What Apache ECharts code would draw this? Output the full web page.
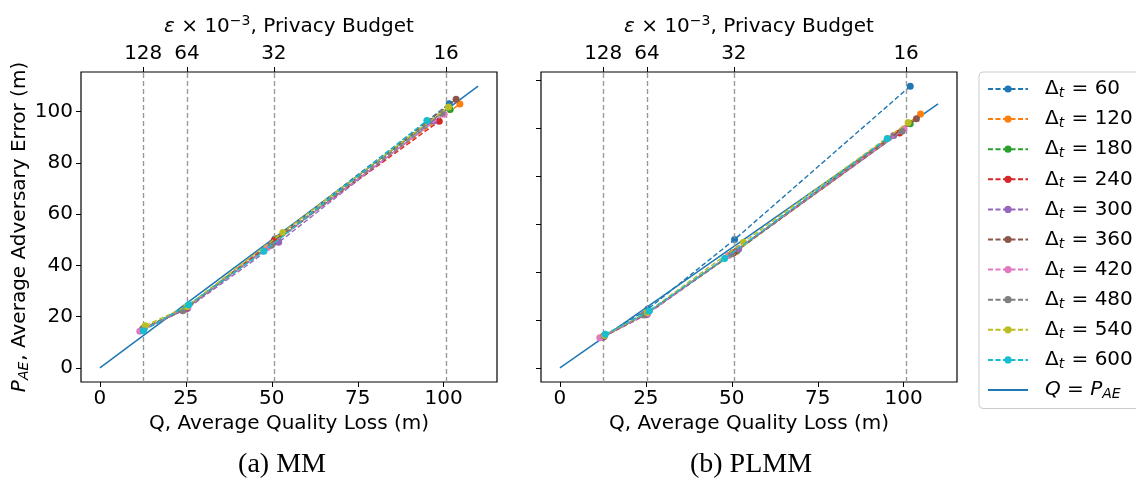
<!DOCTYPE html>
<html><head><meta charset="utf-8">
<script src="https://cdn.jsdelivr.net/npm/echarts@6/dist/echarts.min.js"></script>
<style>html,body{margin:0;padding:0;background:#fff}#c{width:1136px;height:484px}</style>
</head><body><div id="c"></div>
<script>
const deltas = ['60','120','180','240','300','360','420','480','540','600'];
const colors = ['#1f77b4','#ff7f0e','#2ca02c','#d62728','#9467bd','#8c564b','#e377c2','#7f7f7f','#bcbd22','#17becf'];
const epsLabels = ['128','64','32','16'];
const epsQ = [12.6, 25.3, 50.6, 100.7];
const xTicks = [0, 25, 50, 75, 100];
const yTicksMM = [0, 20, 40, 60, 80, 100];
const yTicksPLMM = [0, 20, 40, 60, 80, 100, 120];
const identity = [[0, 0], [110, 110]];
const captions = ['(a) MM', '(b) PLMM'];

// MM: [Q, P_AE] for eps = 128, 64, 32, 16
const mm60  = [[12.6,14.8],[25.3,23.5],[50.9,50.3],[101.6,103.1]];
const mm120 = [[12.4,15.2],[25.0,23.2],[51.4,50.5],[104.7,103.0]];
const mm180 = [[12.8,15.5],[25.4,23.8],[51.8,50.3],[101.9,100.9]];
const mm240 = [[12.5,15.0],[25.1,23.0],[50.7,49.6],[98.7,96.3]];
const mm300 = [[12.2,14.6],[25.5,23.3],[52.0,49.0],[97.0,96.4]];
const mm360 = [[12.7,15.3],[25.2,23.6],[50.0,48.3],[103.6,104.9]];
const mm420 = [[11.6,14.3],[25.6,23.9],[48.7,47.0],[100.1,99.0]];
const mm480 = [[12.9,15.6],[24.1,22.3],[49.9,47.9],[99.5,99.5]];
const mm540 = [[13.2,16.5],[25.3,24.0],[53.2,52.9],[101.4,101.8]];
const mm600 = [[12.6,14.5],[25.8,24.7],[47.7,45.5],[95.1,96.6]];

// PLMM
const pl60  = [[12.9,13.5],[25.6,24.5],[50.8,53.5],[101.9,117.4]];
const pl120 = [[12.5,13.0],[25.2,22.5],[51.2,48.5],[104.9,105.8]];
const pl180 = [[12.7,13.2],[25.3,22.8],[51.5,48.8],[101.9,101.7]];
const pl240 = [[12.4,12.8],[25.0,22.2],[50.5,48.0],[98.8,97.9]];
const pl300 = [[12.3,12.7],[25.4,22.4],[52.0,49.6],[97.1,96.8]];
const pl360 = [[12.8,13.1],[25.1,22.6],[50.2,47.8],[103.7,103.8]];
const pl420 = [[11.6,12.6],[25.5,22.7],[49.0,46.8],[100.1,99.5]];
const pl480 = [[12.9,13.3],[24.3,22.0],[50.0,47.5],[99.5,98.6]];
const pl540 = [[13.0,13.6],[25.4,23.2],[53.4,52.4],[101.3,102.3]];
const pl600 = [[13.2,14.0],[26.0,23.7],[47.9,45.6],[95.2,95.6]];

const mmData = [mm60, mm120, mm180, mm240, mm300, mm360, mm420, mm480, mm540, mm600];
const plData = [pl60, pl120, pl180, pl240, pl300, pl360, pl420, pl480, pl540, pl600];

const FONT = 'DejaVu Sans';
const seriesName = d => 'Δt = ' + d;
const idName = 'Q = PAE';

function bottomAxis(gi) {
  return {
    type: 'value', gridIndex: gi, position: 'bottom', min: -5.5, max: 115.5,
    axisLine: { show: false, onZero: false },
    axisTick: { show: true, length: 5, lineStyle: { color: '#000', width: 1 }, customValues: xTicks },
    axisLabel: { show: true, color: '#000', fontFamily: FONT, fontSize: 20, margin: 7, customValues: xTicks },
    splitLine: { show: false },
    name: 'Q, Average Quality Loss (m)', nameLocation: 'middle', nameGap: 30,
    nameTextStyle: { color: '#000', fontFamily: FONT, fontSize: 20 }
  };
}
function topAxis(gi) {
  return {
    type: 'value', gridIndex: gi, position: 'top', min: -5.5, max: 115.5,
    axisLine: { show: false, onZero: false },
    axisTick: { show: true, length: 5, lineStyle: { color: '#000', width: 1 }, customValues: epsQ },
    axisLabel: { show: true, color: '#000', fontFamily: FONT, fontSize: 20, margin: 8, customValues: epsQ,
      formatter: v => { const i = epsQ.indexOf(v); return i >= 0 ? epsLabels[i] : ''; } },
    splitLine: { show: false },
    name: '{e|ε}{m| × 10}{sup|−3}{m|, Privacy Budget}', nameLocation: 'middle', nameGap: 32,
    nameTextStyle: { color: '#000', fontFamily: FONT, fontSize: 20,
      rich: { m: { fontFamily: FONT, fontSize: 20, lineHeight: 26, color: '#000' },
              e: { fontFamily: FONT, fontSize: 20, fontStyle: 'italic', lineHeight: 26, color: '#000' },
              sup: { fontFamily: FONT, fontSize: 14, verticalAlign: 'top', color: '#000' } } }
  };
}

const series = [];
[[0, 1, 0, mmData], [2, 3, 1, plData]].forEach(([xb, xt, yi, data]) => {
  series.push({
    type: 'line', xAxisIndex: xb, yAxisIndex: yi, data: [], silent: true, z: 1,
    markLine: { symbol: 'none', silent: true, label: { show: false },
      lineStyle: { color: '#999', type: [5, 3], width: 1.4 },
      data: epsQ.map(x => ({ xAxis: x })) }
  });
  data.forEach((d, i) => {
    series.push({
      type: 'line', name: seriesName(deltas[i]), xAxisIndex: xb, yAxisIndex: yi, data: d,
      symbol: 'circle', symbolSize: 7, showSymbol: true, z: 3 + i,
      lineStyle: { color: colors[i], width: 1.4, type: [5, 2.5] },
      itemStyle: { color: colors[i] }, animation: false
    });
  });
  series.push({
    type: 'line', name: idName, xAxisIndex: xb, yAxisIndex: yi, data: identity,
    symbol: 'none', z: 2, lineStyle: { color: '#1f77b4', width: 1.5, type: 'solid' },
    itemStyle: { color: '#1f77b4' }, animation: false
  });
});

const legendRich = {
  d: { fontFamily: FONT, fontSize: 20, color: '#000', lineHeight: 22 },
  it: { fontFamily: FONT, fontSize: 20, fontStyle: 'italic', color: '#000', lineHeight: 22 },
  s: { fontFamily: FONT, fontSize: 14, fontStyle: 'italic', color: '#000', verticalAlign: 'top', padding: [9, 1, 0, 0] }
};

const option = {
  animation: false,
  backgroundColor: '#fff',
  grid: [
    { left: 81, top: 72, width: 416, height: 310, show: true, borderColor: '#000', borderWidth: 1.2, backgroundColor: 'transparent' },
    { left: 541, top: 72, width: 416, height: 310, show: true, borderColor: '#000', borderWidth: 1.2, backgroundColor: 'transparent' }
  ],
  xAxis: [bottomAxis(0), topAxis(0), bottomAxis(1), topAxis(1)],
  yAxis: [
    { type: 'value', gridIndex: 0, min: -5.5, max: 115.5,
      axisLine: { show: false, onZero: false },
      axisTick: { show: true, length: 5, lineStyle: { color: '#000' }, customValues: yTicksMM },
      axisLabel: { color: '#000', fontFamily: FONT, fontSize: 20, margin: 8, customValues: yTicksMM },
      splitLine: { show: false },
      name: '{it|P}{s|AE}{d|, Average Adversary Error (m)}', nameLocation: 'middle', nameGap: 46,
      nameTextStyle: { color: '#000', fontFamily: FONT, fontSize: 20, rich: legendRich } },
    { type: 'value', gridIndex: 1, min: -5.87, max: 123.3,
      axisLine: { show: false, onZero: false },
      axisTick: { show: true, length: 5, lineStyle: { color: '#000' }, customValues: yTicksPLMM },
      axisLabel: { show: false },
      splitLine: { show: false } }
  ],
  legend: {
    orient: 'vertical', left: 979, top: 72,
    padding: [7, 12, 7, 8], itemGap: 8.6, itemWidth: 40, itemHeight: 9,
    borderColor: '#cccccc', borderWidth: 1, borderRadius: 4, backgroundColor: '#fff',
    data: deltas.map(seriesName).map(n => ({ name: n })).concat([{ name: idName, itemStyle: { opacity: 0 } }]),
    formatter: name => {
      if (name === idName) return '{it|Q}{d| = }{it|P}{s|AE}';
      return '{d|Δ}{s|t}{d| = ' + name.split('= ')[1] + '}';
    },
    textStyle: { fontFamily: FONT, fontSize: 20, color: '#000', padding: [0, 0, 0, 12], rich: legendRich }
  },
  graphic: [
    { type: 'text', x: 282, y: 465, style: { text: captions[0], fill: '#000', font: '28px "Liberation Serif"', textAlign: 'center', textVerticalAlign: 'middle' } },
    { type: 'text', x: 751, y: 465, style: { text: captions[1], fill: '#000', font: '28px "Liberation Serif"', textAlign: 'center', textVerticalAlign: 'middle' } }
  ],
  series: series
};

const chart = echarts.init(document.getElementById('c'), null, { renderer: 'canvas' });
chart.setOption(option);
</script>
</body></html>
